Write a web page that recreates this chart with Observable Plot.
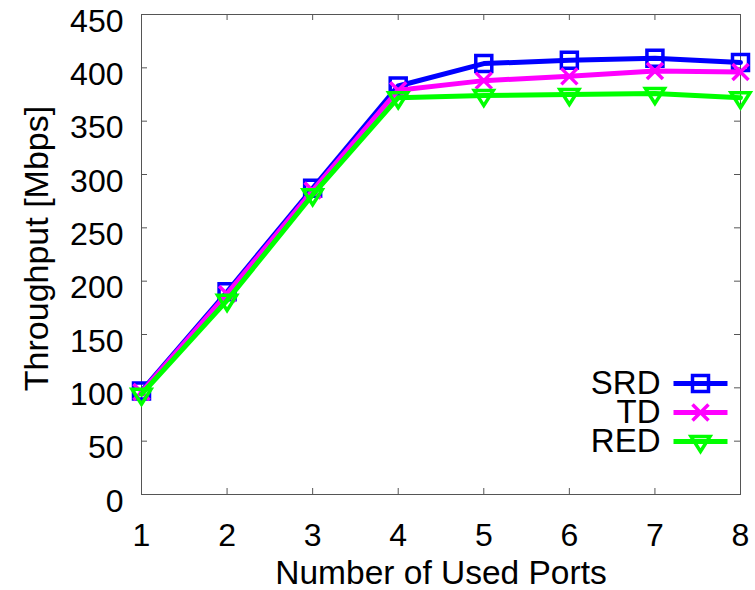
<!DOCTYPE html>
<html>
<head>
<meta charset="utf-8">
<script src="https://cdn.jsdelivr.net/npm/d3@7"></script>
<script src="https://cdn.jsdelivr.net/npm/@observablehq/plot@0.6"></script>
<style>
  html, body { margin: 0; padding: 0; background: white; }
</style>
</head>
<body>
<div id="chart"></div>
<script>
// ---- data ----
const ports = [1, 2, 3, 4, 5, 6, 7, 8];
const srd = [97, 190, 287, 383, 404, 407, 409, 405];
const td  = [96, 188, 285, 379, 388, 392, 397, 396];
const red = [94, 182, 281, 372, 374, 375, 376, 372];
const seriesNames = ["SRD", "TD", "RED"];
const seriesColors = ["#0000ff", "#ff00ff", "#00ff00"];
const xTicks = [1, 2, 3, 4, 5, 6, 7, 8];
const yTicks = [0, 50, 100, 150, 200, 250, 300, 350, 400, 450];
const xLabel = "Number of Used Ports";
const yLabel = "Throughput [Mbps]";

// ---- symbols ----
const R = 9;
const scaleK = size => Math.sqrt(size / Math.PI) / R;
const symSquare = { draw(c, size) { const k = scaleK(size), h = 8 * k;
  c.moveTo(-h, -h); c.lineTo(h, -h); c.lineTo(h, h); c.lineTo(-h, h); c.closePath(); } };
const symCross = { draw(c, size) { const k = scaleK(size), h = 8 * k;
  c.moveTo(-h, -h); c.lineTo(h, h); c.moveTo(h, -h); c.lineTo(-h, h); } };
const symTriDown = { draw(c, size) { const k = scaleK(size);
  c.moveTo(-9.5 * k, -5 * k); c.lineTo(9.5 * k, -5 * k); c.lineTo(0, 10 * k); c.closePath(); } };
const symHLine = { draw(c, size) { const k = scaleK(size);
  c.moveTo(-27 * k, 0); c.lineTo(27 * k, 0); } };
const seriesSymbols = [symSquare, symCross, symTriDown];
const seriesValues = [srd, td, red];

const series = seriesNames.map((name, i) => ({
  name, color: seriesColors[i], symbol: seriesSymbols[i],
  data: ports.map((p, j) => ({ x: p, y: seriesValues[i][j] }))
}));

const FONT = "'Liberation Sans', Arial, Helvetica, sans-serif";
const AX = "#555555";
const legendDy = [-111, -82, -53];

const marks = [
  Plot.frame({ stroke: AX, strokeWidth: 1 }),
  Plot.tickX(xTicks, { x: d => d, stroke: AX, insetTop: 474 }),
  Plot.tickX(xTicks, { x: d => d, stroke: AX, insetBottom: 474 }),
  Plot.tickY(yTicks, { y: d => d, stroke: AX, insetRight: 593 }),
  Plot.tickY(yTicks, { y: d => d, stroke: AX, insetLeft: 593 }),
  Plot.axisX({ ticks: xTicks, tickSize: 0, tickPadding: 29, tickFormat: d => d, label: null, fontSize: 32, fill: "black" }),
  Plot.axisY({ ticks: yTicks, tickSize: 0, tickPadding: 18, dy: 7, tickFormat: d => d, label: null, fontSize: 32, fill: "black" }),
  Plot.text([xLabel], { frameAnchor: "bottom", dy: 79, textAnchor: "middle", lineAnchor: "middle", fontSize: 33.5, fill: "black" }),
  Plot.text([yLabel], { frameAnchor: "left", rotate: -90, dx: -104, dy: -6, textAnchor: "middle", lineAnchor: "middle", fontSize: 34, fill: "black" })
];

series.forEach((s, i) => {
  marks.push(Plot.line(s.data, { x: "x", y: "y", stroke: s.color, strokeWidth: 5 }));
  marks.push(Plot.dot(s.data, { x: "x", y: "y", symbol: s.symbol, r: R, stroke: s.color, strokeWidth: 3.5, fill: "none" }));
  // legend
  marks.push(Plot.text([s.name], { frameAnchor: "bottom-right", dx: -80, dy: legendDy[i], textAnchor: "end", lineAnchor: "middle", fontSize: 33, fill: "black" }));
  marks.push(Plot.dot([0], { frameAnchor: "bottom-right", dx: -40, dy: legendDy[i], symbol: symHLine, r: R, stroke: s.color, strokeWidth: 5 }));
  marks.push(Plot.dot([0], { frameAnchor: "bottom-right", dx: -40, dy: legendDy[i], symbol: s.symbol, r: R, stroke: s.color, strokeWidth: 3.5, fill: "none" }));
});

const chart = Plot.plot({
  width: 755,
  height: 590,
  marginLeft: 141,
  marginRight: 15,
  marginTop: 14,
  marginBottom: 96,
  x: { domain: [1, 8] },
  y: { domain: [0, 450] },
  style: { fontFamily: FONT, fontSize: "32px", background: "white", color: "black" },
  marks
});
document.getElementById("chart").append(chart);
</script>
</body>
</html>
